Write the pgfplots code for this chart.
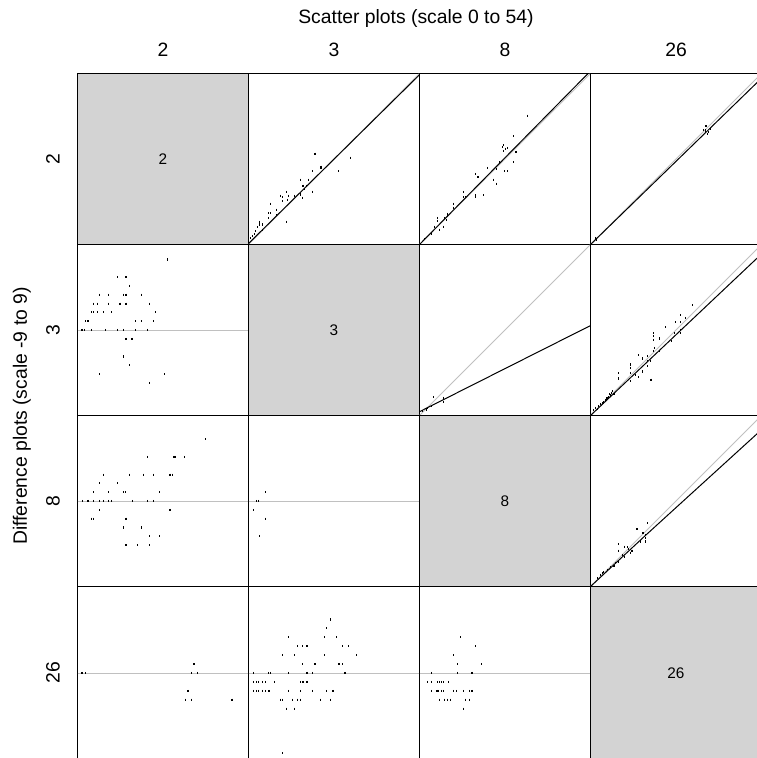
\documentclass[border=0pt]{standalone}
\usepackage{fontspec}
\setmainfont{Liberation Sans}
\usepackage{pgfplots}
\pgfplotsset{compat=1.18}
\definecolor{diaggray}{RGB}{211,211,211}
\definecolor{refgray}{RGB}{192,192,192}
\pgfplotsset{
 panel/.style={width=128.25pt,height=128.25pt,scale only axis,ticks=none,
   axis line style={black,line width=0.75pt},anchor=north west,clip=true},
 scat/.style={panel,xmin=0,xmax=54,ymin=0,ymax=54},
 diff/.style={panel,xmin=0,xmax=54,ymin=-9.7,ymax=9.7},
 diag/.style={scat,axis background/.style={fill=diaggray}},
 lastrow/.style={height=129.75pt},
 pts/.style={only marks,mark=|,mark size=0.8pt,black,mark options={line width=0.9pt}},
 idl/.style={refgray,line width=0.75pt,no marks},
 fit/.style={black,line width=0.75pt,no marks},
}
\newcommand{\bigfont}{\fontsize{14.5}{17}\selectfont}
\newcommand{\innerfont}{\fontsize{11.5}{14}\selectfont}
\begin{document}
\begin{tikzpicture}
\path[use as bounding box] (0pt,0pt) rectangle (567.75pt,-568.5pt);
\clip (0pt,0pt) rectangle (567.75pt,-568.5pt);
% titles
\node[font=\bigfont] at (312pt,-13.5pt) {Scatter plots (scale 0 to 54)};
\node[font=\bigfont,rotate=90] at (16.5pt,-312pt) {Difference plots (scale -9 to 9)};
\node[font=\bigfont] at (122.25pt,-37.5pt) {2};
\node[font=\bigfont] at (250.5pt,-37.5pt) {3};
\node[font=\bigfont] at (378.75pt,-37.5pt) {8};
\node[font=\bigfont] at (507pt,-37.5pt) {26};
\node[font=\bigfont,rotate=90] at (39.75pt,-119.25pt) {2};
\node[font=\bigfont,rotate=90] at (39.75pt,-247.5pt) {3};
\node[font=\bigfont,rotate=90] at (39.75pt,-375.75pt) {8};
\node[font=\bigfont,rotate=90] at (39.75pt,-504.5pt) {26};

% ---------- row 1 ----------
\begin{axis}[diag,at={(58.125pt,-55.125pt)}]
\node[font=\innerfont] at (axis cs:27,27) {2};
\end{axis}

\begin{axis}[scat,at={(186.375pt,-55.125pt)}]
\addplot[idl] coordinates {(0,0)(54,54)};
\addplot[fit] coordinates {(0,0.3)(54,53.6)};
\addplot[pts] coordinates {(21.0,28.7)(32.2,27.4)(22.9,24.6)(22.9,24.2)(20.2,23.1)(28.5,23.1)(16.4,20.5)(18.9,20.5)(17.2,18.6)(18.4,18.6)(17.7,17.5)(20.2,16.7)(16.4,15.8)(17.1,14.8)(11.9,16.6)(10.1,15.4)(10.8,14.9)(10.8,13.7)(12.7,15.4)(12.4,14.1)(14.4,15.4)(7.0,12.9)(8.9,11.0)(6.3,9.9)(7.0,9.9)(6.3,8.4)(8.8,9.2)(11.9,7.2)(3.4,7.2)(3.4,6.3)(4.4,6.3)(2.8,5.5)(4.4,4.7)(2.3,4.2)(1.8,3.2)(1.3,2.6)(0.7,2.1)};
\end{axis}

\begin{axis}[scat,at={(314.625pt,-55.125pt)}]
\addplot[idl] coordinates {(0,0)(54,54)};
\addplot[fit] coordinates {(0,0)(55,55.8)};
\addplot[pts] coordinates {(34.1,40.7)(29.7,34.2)(26.3,30.7)(26.6,31.3)(27.1,30.2)(27.8,30.5)(26.6,29.4)(30.5,29.2)(25.2,26.0)(29.7,26.0)(26.8,23.1)(27.8,23.1)(21.5,24.2)(24.2,23.9)(17.7,22.3)(18.5,21.2)(23.4,20.5)(24.2,19.2)(14.0,16.6)(14.0,14.9)(14.5,14.9)(17.6,15.5)(17.6,14.9)(20.3,15.5)(10.8,12.9)(10.8,11.6)(8.9,9.7)(8.9,8.9)(7.9,8.4)(8.4,7.6)(5.8,8.4)(5.8,7.4)(4.7,5.6)(6.3,4.7)(7.6,5.6)(3.7,3.2)(1.6,1.6)};
\end{axis}

\begin{axis}[scat,at={(442.875pt,-55.125pt)}]
\addplot[idl] coordinates {(0,0)(54,54)};
\addplot[fit] coordinates {(0,0)(54,52.5)};
\addplot[pts] coordinates {(35.7,36.2)(36.5,37.3)(37.2,35.6)(37.8,36.6)(37.0,35.0)(36.2,36.0)(1.6,2.1)(2.0,1.5)};
\end{axis}

% ---------- row 2 ----------
\begin{axis}[diff,at={(58.125pt,-183.375pt)}]
\addplot[idl] coordinates {(0,0)(54,0)};
\addplot[pts] coordinates {(28.5,8)(12.7,6)(15.3,6)(16.4,5)
(7.0,4)(9.8,4)(14.6,4)(15.3,4)(20.3,4)
(5.1,3)(6.3,3)(9.8,3)(13.4,3)(15.3,3)(22.8,3)
(4.4,2)(5.1,2)(6.3,2)(8.2,2)(10.8,2)(24.7,2)
(2.6,1)(3.3,1)(18.4,1)(20.3,1)(23.9,1)
(1.4,0)(2.1,0)(4.4,0)(8.9,0)(12.7,0)(14.6,0)(18.4,0)(22.1,0)
(15.3,-1)(17.2,-1)(14.6,-3)(16.4,-4)(7.0,-5)(27.4,-5)(22.8,-6)};
\end{axis}

\begin{axis}[diag,at={(186.375pt,-183.375pt)}]
\node[font=\innerfont] at (axis cs:27,27) {3};
\end{axis}

\begin{axis}[scat,at={(314.625pt,-183.375pt)}]
\addplot[idl] coordinates {(0,0)(54,54)};
\addplot[fit] coordinates {(0,1.2)(54,28.4)};
\addplot[pts] coordinates {(4.5,5.8)(7.6,5.6)(7.6,4.3)(3.7,2.9)(2.6,2.4)(2.1,1.9)(1.0,1.4)};
\end{axis}

\begin{axis}[scat,at={(442.875pt,-183.375pt)}]
\addplot[idl] coordinates {(0,0)(54,54)};
\addplot[fit] coordinates {(0,0)(54,51)};
\addplot[pts] coordinates {(32.2,34.8)(28.4,31.7)(26.8,29.5)(28.4,29.5)(28.4,27.1)(28.4,26.0)(29.9,30.8)(23.6,27.9)(26.5,26.0)(25.5,23.4)
(19.9,26.0)(19.9,25.0)(19.9,23.9)(21.7,24.3)(21.7,20.5)(20.3,21.3)(19.9,20.3)
(15.2,19.0)(16.3,18.0)(17.9,18.7)(17.9,17.1)(17.9,15.5)(18.9,17.1)(19.1,11.3)
(12.6,16.1)(12.6,15.0)(12.6,13.4)(12.6,10.8)(14.2,12.9)(15.2,12.1)(16.3,13.9)
(8.9,13.4)(8.9,11.7)(7.0,7.7)(7.4,6.8)(6.3,6.4)(5.8,5.8)(4.7,5.0)(3.7,4.0)(2.6,2.9)(1.6,2.4)
(6.6,7.2)(5.2,5.6)(4.2,4.1)(3.1,3.6)(2.1,2.0)(1.0,1.6)(5.9,6.7)(4.9,4.8)};
\end{axis}

% ---------- row 3 ----------
\begin{axis}[diff,at={(58.125pt,-311.625pt)}]
\addplot[idl] coordinates {(0,0)(54,0)};
\addplot[pts] coordinates {(40.4,7)(22.1,5)(30.5,5)(31.0,5)(33.9,5)
(8.2,3)(16.3,3)(20.9,3)(23.9,3)(29.2,3)(30.1,3)
(7.0,2)(12.6,2)
(5.1,1)(9.8,1)(14.6,1)(15.2,1)(25.9,1)
(1.6,0)(3.3,0)(5.1,0)(7.0,0)(8.2,0)(9.8,0)(10.8,0)(17.3,0)(22.1,0)(23.9,0)
(7.0,-1)(29.2,-1)(4.4,-2)(5.1,-2)(15.3,-2)(14.6,-3)(20.3,-3)(22.8,-4)(25.9,-4)(15.3,-5)(19.0,-5)(22.8,-5)};
\end{axis}

\begin{axis}[diff,at={(186.375pt,-311.625pt)}]
\addplot[idl] coordinates {(0,0)(54,0)};
\addplot[pts] coordinates {(5.3,1)(2.5,0)(3.2,0)(1.5,-1)(5.3,-2)(3.4,-4)};
\end{axis}

\begin{axis}[diag,at={(314.625pt,-311.625pt)}]
\node[font=\innerfont] at (axis cs:27,27) {8};
\end{axis}

\begin{axis}[scat,at={(442.875pt,-311.625pt)}]
\addplot[idl] coordinates {(0,0)(54,54)};
\addplot[fit] coordinates {(0,0)(17,15.8)(54,49.5)};
\addplot[pts] coordinates {(18.1,20.0)(14.7,18.1)(16.6,16.8)(17.3,16.3)(17.3,15.2)(17.3,14.2)(8.9,13.3)(8.9,11.3)
(10.8,12.6)(11.6,12.4)(13.1,11.3)(12.6,10.7)(12.1,11.8)(10.0,10.0)(10.8,9.2)(8.9,7.9)(7.9,7.4)(7.4,6.5)(6.3,6.1)(5.3,5.3)(4.2,4.5)(3.7,4.2)(3.2,3.7)(2.1,2.6)(15.8,14.2)};
\end{axis}

% ---------- row 4 ----------
\begin{axis}[diff,lastrow,at={(58.125pt,-439.875pt)}]
\addplot[idl] coordinates {(0,0)(54,0)};
\addplot[pts] coordinates {(1.4,0)(2.6,0)(36.8,1)(36.0,0)(37.9,0)(34.9,-2)(34.1,-3)(36.0,-3)(48.8,-3)};
\end{axis}

\begin{axis}[diff,lastrow,at={(186.375pt,-439.875pt)}]
\addplot[idl] coordinates {(0,0)(54,0)};
\addplot[pts] coordinates {(25.8,6)(24.7,5)
(12.6,4)(23.9,4)(27.7,4)
(15.5,3)(17.0,3)(18.5,3)(29.6,3)(31.5,3)
(10.8,2)(14.6,2)(23.9,2)(34.1,2)
(17.0,1)(21.0,1)(28.6,1)(29.6,1)
(1.5,0)(6.3,0)(7.0,0)(12.6,0)(18.5,0)(20.2,0)(30.5,0)
(1.5,-1)(2.5,-1)(3.2,-1)(4.4,-1)(5.3,-1)(8.1,-1)(16.5,-1)(17.2,-1)(18.5,-1)
(1.5,-2)(2.5,-2)(3.2,-2)(4.4,-2)(5.3,-2)(6.5,-2)(12.6,-2)(16.5,-2)(20.2,-2)(24.7,-2)(26.7,-2)
(10.1,-3)(10.8,-3)(13.9,-3)(15.5,-3)(16.3,-3)(22.8,-3)(25.8,-3)
(11.9,-4)(14.6,-4)(10.8,-9)};
\end{axis}

\begin{axis}[diff,lastrow,at={(314.625pt,-439.875pt)}]
\addplot[idl] coordinates {(0,0)(54,0)};
\addplot[pts] coordinates {(12.9,4)(17.8,3)(10.8,2)(12.1,1)(19.6,1)
(3.9,0)(12.1,0)(16.6,0)
(2.6,-1)(3.9,-1)(5.8,-1)(6.4,-1)(7.0,-1)(7.6,-1)(9.1,-1)
(3.9,-2)(5.5,-2)(6.1,-2)(7.0,-2)(7.6,-2)(10.8,-2)(11.8,-2)(14.0,-2)(15.9,-2)(16.6,-2)
(6.4,-3)(8.0,-3)(8.9,-3)(9.9,-3)(14.6,-3)(15.9,-3)(14.0,-4)};
\end{axis}

\begin{axis}[diag,lastrow,at={(442.875pt,-439.875pt)}]
\node[font=\innerfont] at (axis cs:27,27) {26};
\end{axis}
\end{tikzpicture}
\end{document}
